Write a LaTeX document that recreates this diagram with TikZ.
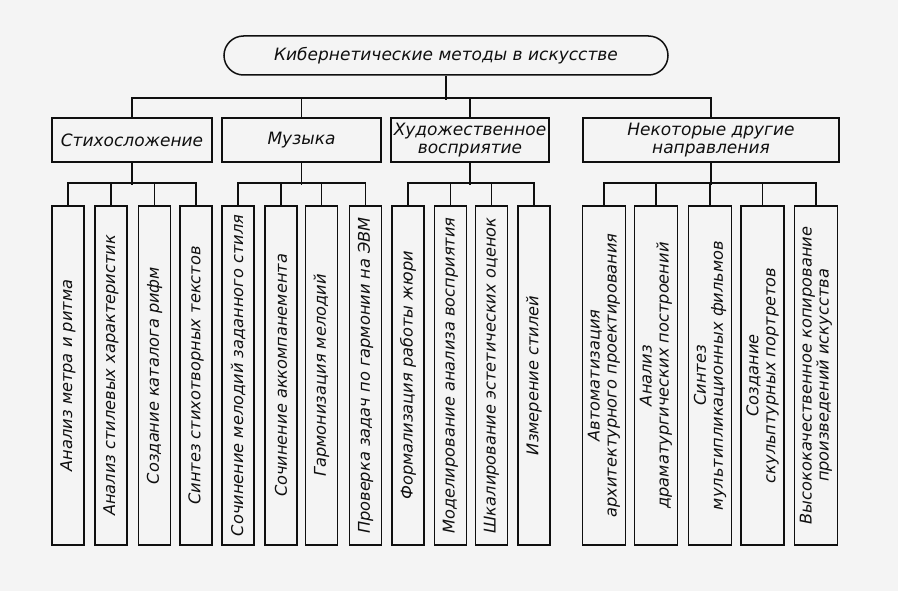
\documentclass[tikz,border=0pt]{standalone}
\usepackage{fontspec}
\setmainfont{DejaVu Sans}
\definecolor{bg}{RGB}{244,244,244}
\definecolor{ink}{RGB}{15,15,15}
\newcommand{\gsize}{\fontsize{17}{18}\selectfont\itshape}
\newcommand{\lsize}{\fontsize{16.2}{17}\selectfont\itshape}
\tikzset{
  box/.style={draw=ink, line width=1.5pt, rectangle, inner sep=0pt, align=center, font=\gsize, text=ink},
  titlebox/.style={box, minimum width=444pt, minimum height=39pt, rounded corners=19.5pt},
  catbox/.style={box, minimum height=44pt},
  leaf/.style={box, font=\lsize, rotate=90, minimum width=339pt, minimum height=32pt},
  wleaf/.style={leaf, minimum height=43pt},
  conn/.style={draw=ink, line width=1.5pt},
}
\begin{document}
\begin{tikzpicture}[x=1pt,y=-1pt]
\fill[bg] (0,0) rectangle (898,591);
\useasboundingbox (0,0) rectangle (898,591);

\node[titlebox] (top) at (446,55.5) {Кибернетические методы в искусстве};

\node[catbox, minimum width=160pt] (C1) at (132,140) {Стихосложение};
\node[catbox, minimum width=159pt] (C2) at (301.5,140) {Музыка};
\node[catbox, minimum width=158pt] (C3) at (470,140) {Художественное\\восприятие};
\node[catbox, minimum width=256pt] (C4) at (711,140) {Некоторые другие\\направления};

\node[leaf] (L1) at (68,375.5) {Анализ метра и ритма};
\node[leaf] (L2) at (111,375.5) {Анализ стилевых характеристик};
\node[leaf] (L3) at (154.5,375.5) {Создание каталога рифм};
\node[leaf] (L4) at (196,375.5) {Синтез стихотворных текстов};

\node[leaf] (M1) at (238,375.5) {Сочинение мелодий заданного стиля};
\node[leaf] (M2) at (281,375.5) {Сочинение аккомпанемента};
\node[leaf] (M3) at (321.5,375.5) {Гармонизация мелодий};
\node[leaf] (M4) at (365.5,375.5) {Проверка задач по гармонии на ЭВМ};

\node[leaf] (P1) at (408,375.5) {Формализация работы жюри};
\node[leaf] (P2) at (450.5,375.5) {Моделирование анализа восприятия};
\node[leaf] (P3) at (491.5,375.5) {Шкалирование эстетических оценок};
\node[leaf] (P4) at (534,375.5) {Измерение стилей};

\node[wleaf] (O1) at (604,375.5) {Автоматизация\\архитектурного проектирования};
\node[wleaf] (O2) at (656,375.5) {Анализ\\драматургических построений};
\node[wleaf] (O3) at (710,375.5) {Синтез\\мультипликационных фильмов};
\node[wleaf] (O4) at (762.5,375.5) {Создание\\скульптурных портретов};
\node[wleaf] (O5) at (816,375.5) {Высококачественное копирование\\произведений искусства};

% top level
\draw[conn] (top.south) -- ++(0,24);
\draw[conn] (C1.north) -- ++(0,-19) -| (C4.north);
\draw[conn] (C2.north) -- ++(0,-19);
\draw[conn] (C3.north) -- ++(0,-19);

% group 1
\draw[conn] (C1.south) -- ++(0,22);
\draw[conn] (L1.east) -- ++(0,-22) -| (L4.east);
\draw[conn] (L2.east) -- ++(0,-22);
\draw[conn] (L3.east) -- ++(0,-22);
% group 2
\draw[conn] (C2.south) -- ++(0,22);
\draw[conn] (M1.east) -- ++(0,-22) -| (M4.east);
\draw[conn] (M2.east) -- ++(0,-22);
\draw[conn] (M3.east) -- ++(0,-22);
% group 3
\draw[conn] (C3.south) -- ++(0,22);
\draw[conn] (P1.east) -- ++(0,-22) -| (P4.east);
\draw[conn] (P2.east) -- ++(0,-22);
\draw[conn] (P3.east) -- ++(0,-22);
% group 4
\draw[conn] (C4.south) -- ++(0,22);
\draw[conn] (O1.east) -- ++(0,-22) -| (O5.east);
\draw[conn] (O2.east) -- ++(0,-22);
\draw[conn] (O3.east) -- ++(0,-22);
\draw[conn] (O4.east) -- ++(0,-22);
\end{tikzpicture}
\end{document}
